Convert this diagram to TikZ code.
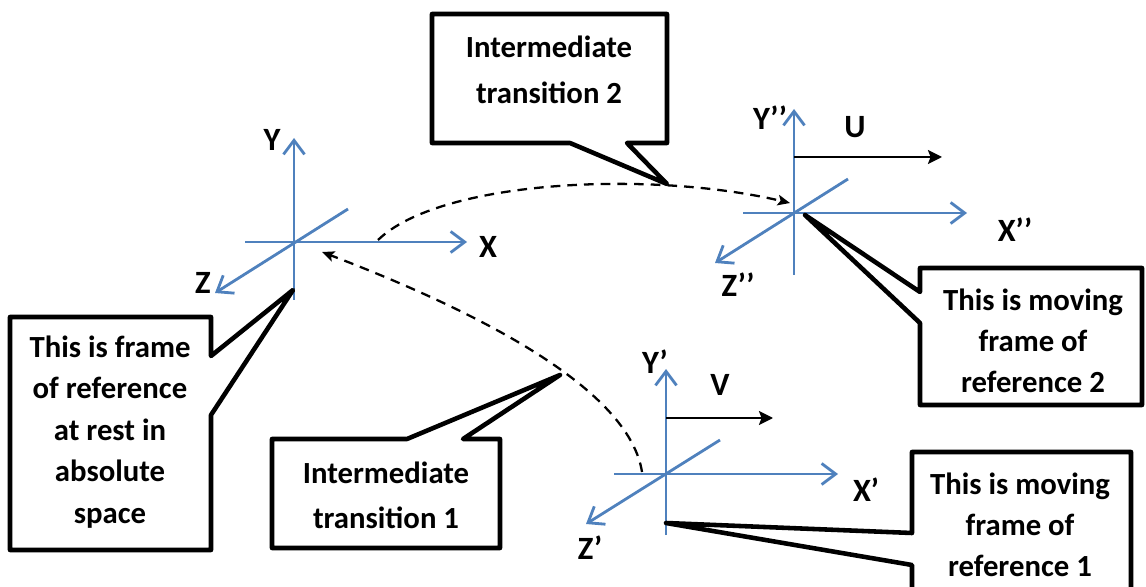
\documentclass[tikz,border=0pt]{standalone}
\usepackage{fontspec}
\setmainfont{Carlito}
\usetikzlibrary{arrows.meta}
\definecolor{axisblue}{RGB}{79,129,189}
\begin{document}
\begin{tikzpicture}[x=0.02cm,y=-0.02cm,
  axis/.style={draw=axisblue,line width=1.6pt,-{Straight Barb[length=8pt,width=12pt,line width=1.6pt]}},
  velo/.style={draw=black,line width=1.2pt,-{Stealth[length=8pt,width=8pt,inset=1.5pt]}},
  trans/.style={draw=black,line width=1.3pt,dash pattern=on 5.5pt off 4pt,-{Stealth[length=7pt,width=6pt,inset=1.5pt]}},
  callout/.style={draw=black,line width=2.6pt,line join=round,fill=white},
  lab/.style={font=\bfseries\fontsize{18.5}{20}\selectfont,inner sep=0pt},
  ctext/.style={font=\bfseries\fontsize{17.5}{#1}\selectfont,align=center,inner sep=0pt},
  ctext/.default=23.6pt
]
\useasboundingbox (0,0) rectangle (1146,587);
\clip (0,0) rectangle (1146,587);

% ---------- frame at rest ----------
\coordinate (O) at (294,242);
\coordinate (Oyt) at (294,138); \coordinate (Oyb) at (294,300);
\coordinate (Oxl) at (245,242); \coordinate (Oxr) at (467,242);
\coordinate (Ozu) at (348,209); \coordinate (Ozd) at (215,293);
\draw[axis] (Oyb) -- (Oyt);
\draw[axis] (Oxl) -- (Oxr);
\draw[axis] (Ozu) -- (Ozd);
\node[lab] (LY) at (272,140) {Y};
\node[lab] (LX) at (488,247) {X};
\node[lab] (LZ) at (203,283) {Z};

% ---------- moving frame 2 ----------
\coordinate (U) at (794,213);
\coordinate (Uyt) at (794,109); \coordinate (Uyb) at (794,275);
\coordinate (Uxl) at (743,213); \coordinate (Uxr) at (967,213);
\coordinate (Uzu) at (848,179); \coordinate (Uzd) at (715,263);
\coordinate (Uvs) at (794,157); \coordinate (Uve) at (942,157);
\draw[axis] (Uyb) -- (Uyt);
\draw[axis] (Uxl) -- (Uxr);
\draw[axis] (Uzu) -- (Uzd);
\draw[velo] (Uvs) -- (Uve);
\node[lab] (LY2) at (770,118) {Y’’};
\node[lab] (LU) at (855,127) {U};
\node[lab] (LX2) at (1015,230) {X’’};
\node[lab] (LZ2) at (738,285) {Z’’};

% ---------- moving frame 1 ----------
\coordinate (V) at (666,474);
\coordinate (Vyt) at (666,369); \coordinate (Vyb) at (666,535);
\coordinate (Vxl) at (614,474); \coordinate (Vxr) at (838,474);
\coordinate (Vzu) at (720,440); \coordinate (Vzd) at (586,524);
\coordinate (Vvs) at (666,418); \coordinate (Vve) at (773,418);
\draw[axis] (Vyb) -- (Vyt);
\draw[axis] (Vxl) -- (Vxr);
\draw[axis] (Vzu) -- (Vzd);
\draw[velo] (Vvs) -- (Vve);
\node[lab] (LY1) at (655,362) {Y’};
\node[lab] (LV) at (720,385) {V};
\node[lab] (LX1) at (866,490) {X’};
\node[lab] (LZ1) at (590,548) {Z’};

% ---------- transitions ----------
\coordinate (T1s) at (642,472); \coordinate (T1e) at (322,252);
\coordinate (T2s) at (378,240); \coordinate (T2e) at (790,203);
\draw[trans] (T1s) .. controls (630,395) and (500,320) .. (T1e);
\draw[trans] (T2s) .. controls (440,180) and (650,170) .. (T2e);

% ---------- callouts ----------
\coordinate (tipA) at (293,290);
\draw[callout] (10,317) -- (211,317) -- (211,356) -- (tipA) -- (211,415) -- (211,550) -- (10,550) -- cycle;
\node[ctext=23.6pt] (A) at (110,432) {This is frame\\of reference\\at rest in\\absolute\\space};

\coordinate (tipB) at (667,184);
\draw[callout] (432,14) -- (667,14) -- (667,143) -- (627,143) -- (tipB) -- (570,143) -- (432,143) -- cycle;
\node[ctext=26.2pt] (B) at (549,70) {Intermediate\\transition 2};

\coordinate (tipC) at (560,375);
\draw[callout] (272,439) -- (407,439) -- (tipC) -- (463,439) -- (500,439) -- (500,548) -- (272,548) -- cycle;
\node[ctext=25.6pt] (C) at (386,495) {Intermediate\\transition 1};

\coordinate (tipD) at (805,215);
\draw[callout] (920,268) -- (1142,268) -- (1142,405) -- (920,405) -- (920,323) -- (tipD) -- (920,292) -- cycle;
\node[ctext=23.3pt] (D) at (1033,341) {This is moving\\frame of\\reference 2};

\coordinate (tipE) at (666,523);
\draw[callout] (912,452) -- (1131,452) -- (1131,600) -- (912,600) -- (912,565) -- (tipE) -- (912,533) -- cycle;
\node[ctext=23.3pt] (E) at (1020,525) {This is moving\\frame of\\reference 1};
\end{tikzpicture}
\end{document}
